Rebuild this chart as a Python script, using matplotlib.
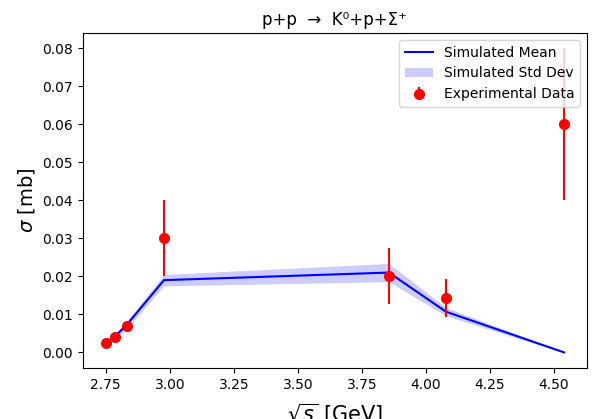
import matplotlib
matplotlib.use("Agg")
import matplotlib.pyplot as plt
import numpy as np

# Beam energies (sqrt(s) in GeV)
sqrt_s = [2.75, 2.786, 2.831, 2.977, 3.855, 4.078, 4.539]

# Simulated cross sections (mb)
sim_mean = [0.0026, 0.0042, 0.0072, 0.0190, 0.0210, 0.0107, 0.0000]
sim_std = [0.0006, 0.0008, 0.0010, 0.0015, 0.0024, 0.0011, 0.0001]

# Measured cross sections (mb)
exp_sigma = [0.0025, 0.0041, 0.0069, 0.0300, 0.0201, 0.0142, 0.0600]
exp_err = [0.0, 0.0, 0.0, 0.0100, 0.0073, 0.0050, 0.0200]

fig = plt.figure(figsize=(5.92, 4.19), dpi=100)
ax = fig.add_axes([0.140, 0.1217, 0.8516, 0.7995])

mean = np.array(sim_mean)
std = np.array(sim_std)
ax.plot(sqrt_s, mean, color="blue", lw=1.5, label="Simulated Mean")
ax.fill_between(sqrt_s, mean - std, mean + std, color="blue", alpha=0.2,
                lw=0, label="Simulated Std Dev")
ax.errorbar(sqrt_s, exp_sigma, yerr=exp_err, fmt="o", color="red",
            markersize=7, elinewidth=1.5, label="Experimental Data")

ax.set_title("p+p  \u2192  K\u2070+p+\u03a3\u207a", fontsize=12)
ax.set_xlabel(r"$\sqrt{s}$ [GeV]", fontsize=15, labelpad=7)
ax.set_ylabel(r"$\sigma$ [mb]", fontsize=14)
ax.legend(loc="upper right", fontsize=10)

fig.savefig("out.png", dpi=100)
